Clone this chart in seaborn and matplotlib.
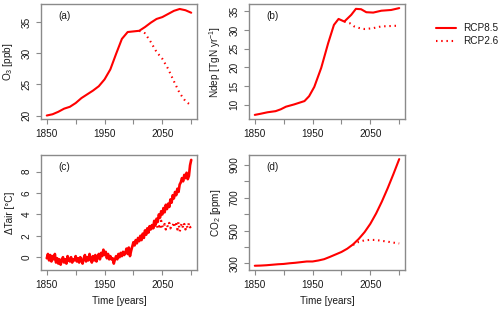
import numpy as np
import matplotlib
matplotlib.use("Agg")
import matplotlib.pyplot as plt
import seaborn as sns
from matplotlib.lines import Line2D

# ---- data ----
years_dec = list(range(1850, 2101, 10))
o3_rcp85 = [20.0, 20.2, 20.6, 21.1, 21.4, 22.0, 22.8, 23.4, 24.0, 24.7, 25.8, 27.4, 29.9,
            32.3, 33.4, 33.5, 33.6, 34.2, 34.9, 35.5, 35.8, 36.3, 36.8, 37.1, 36.9, 36.5]
years_o3_26 = [2010, 2020, 2030, 2040, 2050, 2060, 2070, 2080, 2090, 2100]
o3_rcp26 = [33.6, 33.2, 31.8, 30.2, 29.1, 27.5, 25.5, 23.6, 22.3, 21.6]

years_ndep = [1850, 1860, 1872, 1886, 1895, 1904, 1918, 1936, 1944, 1953, 1965, 1977,
              1987, 1995, 2005, 2017, 2025, 2034, 2043, 2055, 2069, 2086, 2100]
ndep_rcp85 = [7.3, 7.6, 8.0, 8.3, 8.8, 9.5, 10.1, 11.0, 12.3, 14.8, 19.9, 26.5,
              31.4, 33.0, 32.3, 34.1, 35.7, 35.6, 34.8, 34.7, 35.2, 35.4, 35.9]
years_ndep_26 = [2005, 2014, 2022, 2030, 2040, 2054, 2069, 2085, 2100]
ndep_rcp26 = [32.3, 31.9, 31.0, 30.6, 30.3, 30.5, 31.0, 31.1, 31.2]

years_tair = list(range(1850, 2101, 2))
tair_rcp85 = [
    # 1850-1900
    -0.1, 0.3, -0.3, 0.2, -0.4, 0.1, -0.2, 0.3, -0.5, -0.1, -0.6, -0.2, -0.7,
    -0.3, 0.0, -0.5, -0.2, -0.6, 0.1, -0.3, -0.4, 0.0, -0.5, -0.2, -0.3, 0.1,
    # 1902-1950
    -0.4, -0.1, -0.5, 0.0, -0.3, -0.6, -0.1, 0.2, -0.4, 0.0, -0.3, 0.3, -0.2,
    -0.5, 0.1, -0.3, 0.2, -0.4, 0.0, 0.3, -0.2, 0.4, 0.1, 0.7, 0.2,
    # 1952-2000
    0.5, -0.1, 0.3, -0.2, 0.1, -0.2, -0.1, -0.6, -0.2, 0.1, -0.2, 0.3, 0.0,
    0.4, 0.1, 0.5, 0.2, 0.4, 0.8, 0.3, 0.9, 0.1, 0.6, 1.0, 1.4,
    # 2002-2050
    1.1, 1.6, 1.3, 1.8, 1.5, 2.0, 1.6, 2.2, 1.8, 2.5, 2.1, 2.7, 2.3,
    2.9, 2.6, 3.0, 2.7, 3.4, 3.0, 3.6, 3.3, 4.0, 3.7, 4.3, 4.0,
    # 2052-2100
    4.6, 4.2, 4.9, 4.5, 5.0, 4.7, 5.4, 5.1, 5.8, 5.5, 6.1, 5.8, 6.4,
    6.1, 6.8, 7.0, 7.4, 7.1, 7.7, 7.4, 7.9, 7.3, 7.6, 8.6, 9.1,
]
years_tair_26 = list(range(2030, 2101, 2))
tair_rcp26 = [2.6, 3.0, 2.5, 3.1, 2.8, 3.3, 2.7, 3.0, 2.6, 3.4, 2.9, 2.7, 3.1,
              2.6, 3.0, 2.8, 3.2, 2.7, 3.0, 2.9, 3.3, 2.8, 3.1, 2.6, 3.3, 2.4,
              2.9, 3.2, 2.7, 3.1, 2.6, 3.0, 2.7, 3.2, 2.8, 2.9]

co2_rcp85 = [285, 286, 288, 291, 294, 296, 300, 303, 307, 311, 311, 317, 325,
             339, 354, 369, 389, 415, 449, 490, 541, 604, 677, 758, 845, 936]
years_co2_26 = [2020, 2030, 2040, 2050, 2060, 2070, 2080, 2090, 2100]
co2_rcp26 = [412, 431, 440, 443, 442, 437, 432, 426, 421]

xtick_vals = [1850, 1900, 1950, 2000, 2050, 2100]
xtick_labels = ["1850", "", "1950", "", "2050", ""]

# ---- style ----
sns.set_style("white")
plt.rcParams["font.family"] = ["Liberation Sans", "DejaVu Sans"]
plt.rcParams["font.size"] = 7.2
plt.rcParams["mathtext.fontset"] = "custom"
plt.rcParams["mathtext.rm"] = "Liberation Sans"
plt.rcParams["mathtext.it"] = "Liberation Sans:italic"

RED = "#ff0000"
FRAME = "#8a8a8a"
TXT = "#1a1a1a"
LW = 1.5
DOT = (0, (0.7, 1.8))
FS = 7.2

fig = plt.figure(figsize=(5, 3.1), dpi=100)
W, H = 500, 310


def add_axes(left, top, right, bottom):
    return fig.add_axes([left / W, 1 - bottom / H, (right - left) / W, (bottom - top) / H])


ax_a = add_axes(41, 4, 197, 119)
ax_b = add_axes(249, 4, 405, 119)
ax_c = add_axes(41, 155, 197, 270)
ax_d = add_axes(249, 155, 405, 270)

sns.lineplot(x=years_dec, y=o3_rcp85, ax=ax_a, color=RED, lw=LW)
sns.lineplot(x=years_o3_26, y=o3_rcp26, ax=ax_a, color=RED, lw=LW, linestyle=DOT)

sns.lineplot(x=years_ndep, y=ndep_rcp85, ax=ax_b, color=RED, lw=LW)
sns.lineplot(x=years_ndep_26, y=ndep_rcp26, ax=ax_b, color=RED, lw=LW, linestyle=DOT)

sns.lineplot(x=years_tair, y=tair_rcp85, ax=ax_c, color=RED, lw=1.9)
sns.lineplot(x=years_tair_26, y=tair_rcp26, ax=ax_c, color=RED, lw=1.7, linestyle=DOT)

sns.lineplot(x=years_dec, y=co2_rcp85, ax=ax_d, color=RED, lw=LW)
sns.lineplot(x=years_co2_26, y=co2_rcp26, ax=ax_d, color=RED, lw=LW, linestyle=DOT)

panels = [
    (ax_a, "(a)", "O$_3$ [ppb]", (19.44, 37.9), [20, 25, 30, 35], ["20", "25", "30", "35"]),
    (ax_b, "(b)", "Ndep [TgN yr$^{-1}$]", (6.2, 37.0), [10, 15, 20, 25, 30, 35],
     ["10", "15", "20", "25", "30", "35"]),
    (ax_c, "(c)", "\u0394Tair [\u00b0C]", (-1.2, 9.56), [0, 2, 4, 6, 8], ["0", "2", "4", "6", "8"]),
    (ax_d, "(d)", "CO$_2$ [ppm]", (259, 961), [300, 400, 500, 600, 700, 800, 900],
     ["300", "", "500", "", "700", "", "900"]),
]

for ax, tag, ylab, ylim, yt, ytl in panels:
    ax.set_xlim(1840, 2110)
    ax.set_ylim(*ylim)
    ax.set_xticks(xtick_vals)
    ax.set_xticklabels(xtick_labels)
    ax.set_yticks(yt)
    ax.set_yticklabels(ytl, rotation=90, va="center")
    ax.tick_params(axis="both", direction="out", length=3.3, width=0.8, color=FRAME,
                   labelcolor=TXT, labelsize=FS, pad=3.6)
    ax.tick_params(axis="both", bottom=True, left=True)
    for sp in ax.spines.values():
        sp.set_visible(True)
        sp.set_color(FRAME)
        sp.set_linewidth(1.0)
    ax.text(0.11, 0.895, tag, transform=ax.transAxes, ha="left", va="center",
            fontsize=FS, color=TXT)
    ax.set_ylabel(ylab, fontsize=FS, color=TXT)
    ax.yaxis.set_label_coords(-0.165, 0.5)
    ax.set_xlabel("")

for ax in (ax_c, ax_d):
    ax.set_xlabel("Time [years]", fontsize=FS, color=TXT)
    ax.xaxis.set_label_coords(0.5, -0.225)

handles = [Line2D([], [], color=RED, lw=LW),
           Line2D([], [], color=RED, lw=LW, linestyle=DOT)]
fig.legend(handles, ["RCP8.5", "RCP2.6"], loc="upper left",
           bbox_to_anchor=(436 / W, 1 - 23 / H), frameon=False, fontsize=FS,
           handlelength=2.0, handletextpad=0.7, labelspacing=0.3,
           borderpad=0, borderaxespad=0, labelcolor=TXT)

fig.savefig("out.png", dpi=100)
